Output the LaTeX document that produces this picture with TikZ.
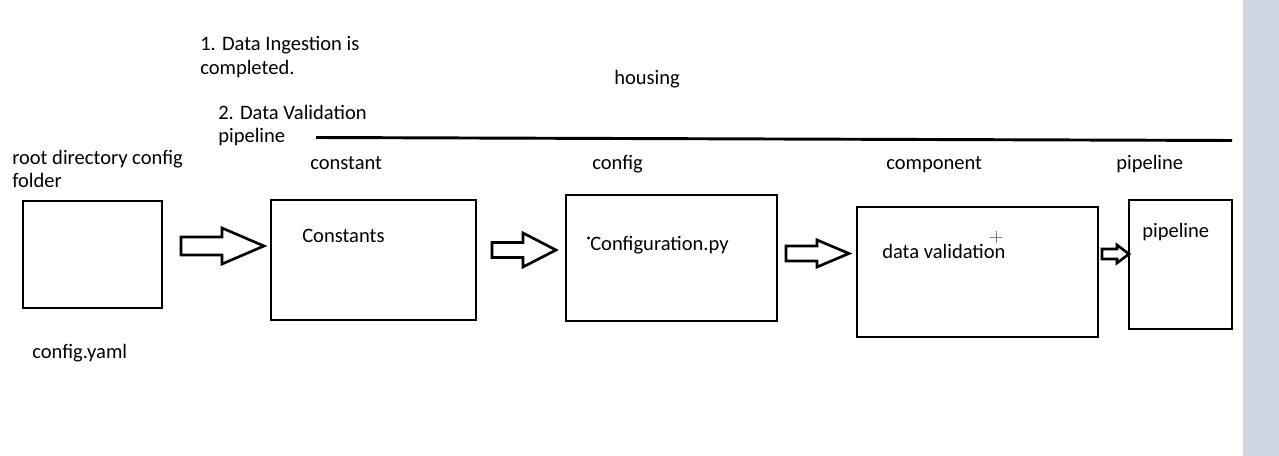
\documentclass[tikz,border=0pt]{standalone}
\usepackage{fontspec}
\setmainfont{Carlito}
\definecolor{sidebar}{RGB}{207,214,229}
\newcommand{\blockarrow}[6]{% x1, xh, x2, ymid, shaft half, head half
  \draw[blockarr] (#1,#4-#5) -- (#2,#4-#5) -- (#2,#4-#6) -- (#3,#4) -- (#2,#4+#6) -- (#2,#4+#5) -- (#1,#4+#5) -- cycle;}
\begin{document}
\begin{tikzpicture}[x=0.75pt,y=-0.75pt,
  box/.style={draw=black,line width=2pt,rectangle,inner sep=0pt},
  txt/.style={anchor=base west,inner sep=0pt,font=\fontsize{15.4}{18.5}\selectfont},
  blockarr/.style={draw=black,line width=2pt,fill=white,line join=miter},
  rule/.style={draw=black,line width=2.2pt}]
\useasboundingbox (0,0) rectangle (1279,456);
\fill[white] (0,0) rectangle (1279,456);
\fill[sidebar] (1243,0) rectangle (1279,456);
% boxes
\node[box,minimum width={139*0.75pt},minimum height={107*0.75pt}] (b0) at (92.5,254.5) {};
\node[box,minimum width={205*0.75pt},minimum height={120*0.75pt}] (b1) at (373.5,260) {};
\node[box,minimum width={211*0.75pt},minimum height={126*0.75pt}] (b2) at (671.5,258) {};
\node[box,minimum width={241*0.75pt},minimum height={130*0.75pt}] (b3) at (977.5,272) {};
\node[box,minimum width={103*0.75pt},minimum height={129*0.75pt}] (b4) at (1180.5,264.5) {};
% block arrows
\blockarrow{181}{222}{264}{246}{9}{18}
\blockarrow{492}{523}{556}{250}{7.5}{17}
\blockarrow{786}{817}{849}{253.5}{7.5}{13.5}
\blockarrow{1102}{1117}{1129}{254}{5}{9}
% top rule
\coordinate (r0) at (316,137.5);
\coordinate (r1) at (1232,140.5);
\draw[rule] (r0) -- (r1);
% texts
\node[txt] (t1) at (200,51) {1. Data Ingestion is};
\node[txt] (t1b) at (200,75) {completed.};
\node[txt] (t2) at (218,120) {2. Data Validation};
\node[txt] (t2b) at (218,143) {pipeline};
\node[txt] (hous) at (614,85) {housing};
\node[txt] (root) at (12,165) {root directory config};
\node[txt] (rootb) at (12,188) {folder};
\node[txt] (lconst) at (310,170) {constant};
\node[txt] (lconf) at (592,170) {config};
\node[txt] (lcomp) at (886,170) {component};
\node[txt] (lpipe) at (1116,170) {pipeline};
\node[txt] (yaml) at (32,358) {config.yaml};
\node[txt] (c1) at (302,243) {Constants};
\node[txt] (c2) at (590,251) {Configuration.py};
\node[txt] (c3) at (882,259) {data validation};
\node[txt] (c4) at (1142,238) {pipeline};
% small marks
\fill[black] (588.5,238) circle (1.6);
\draw[gray,line width=0.5pt] (990,237) -- (1002,237) (996,231) -- (996,243);
\end{tikzpicture}
\end{document}
